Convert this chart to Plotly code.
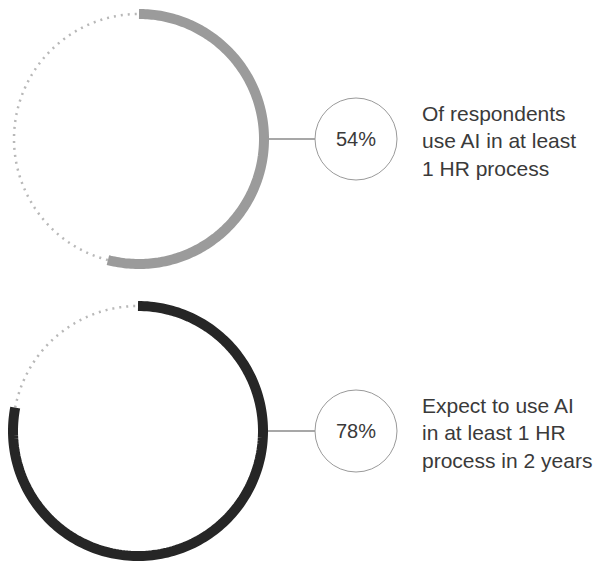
import numpy as np
import plotly.graph_objects as go

# ---- data ----
values = [54, 78]
value_labels = ["54%", "78%"]
descriptions = [
    "Of respondents<br>use AI in at least<br>1 HR process",
    "Expect to use AI<br>in at least 1 HR<br>process in 2 years",
]

# ---- style ----
arc_colors = ["#9b9b9b", "#262626"]
rest_color = "#b8b8b8"
text_color = "#3a3a3a"
W, H = 598, 567
# ring centers (px) and centerline radius (px)
centers = [(139, 139), (138, 431)]
R = 125
PAD = 1.05  # radial range headroom so the thick arc is not clipped
bubble_x = 356
bubble_r = 41
text_x = 420

fig = go.Figure()
shapes = []
annotations = []

for i, (v, lab, desc) in enumerate(zip(values, value_labels, descriptions)):
    cx, cy = centers[i]
    pname = "polar" if i == 0 else f"polar{i+1}"
    end = v / 100 * 360
    th_fill = np.linspace(0, end, 200)
    th_rest = np.linspace(end, 360, 200)
    fig.add_trace(go.Scatterpolar(
        r=np.ones_like(th_rest), theta=th_rest, mode="lines",
        line=dict(color=rest_color, width=2.5, dash="2px,5px"),
        subplot=pname, showlegend=False, hoverinfo="skip"))
    fig.add_trace(go.Scatterpolar(
        r=np.ones_like(th_fill), theta=th_fill, mode="lines",
        line=dict(color=arc_colors[i], width=10),
        subplot=pname, showlegend=False, hoverinfo="skip"))
    Rd = R * PAD
    fig.update_layout(**{pname: dict(
        domain=dict(x=[max(0, (cx - Rd) / W), min(1, (cx + Rd) / W)],
                    y=[max(0, 1 - (cy + Rd) / H), min(1, 1 - (cy - Rd) / H)]),
        bgcolor="rgba(0,0,0,0)",
        radialaxis=dict(visible=False, range=[0, PAD]),
        angularaxis=dict(visible=False, rotation=90, direction="clockwise"),
    )})
    # connector line
    shapes.append(dict(type="line", xref="paper", yref="paper",
                       x0=(cx + R + 5) / W, x1=(bubble_x - bubble_r) / W,
                       y0=1 - cy / H, y1=1 - cy / H,
                       line=dict(color="#8a8a8a", width=1.3)))
    # bubble
    shapes.append(dict(type="circle", xref="paper", yref="paper",
                       x0=(bubble_x - bubble_r) / W, x1=(bubble_x + bubble_r) / W,
                       y0=1 - (cy + bubble_r) / H, y1=1 - (cy - bubble_r) / H,
                       line=dict(color="#9a9a9a", width=1), fillcolor="white"))
    annotations.append(dict(text=lab, x=bubble_x / W, y=1 - cy / H,
                            xref="paper", yref="paper", showarrow=False,
                            xanchor="center", yanchor="middle",
                            font=dict(size=20, color=text_color,
                                      family="Liberation Sans, Arial")))
    annotations.append(dict(text=desc, x=text_x / W, y=1 - (cy + 2) / H,
                            xref="paper", yref="paper", showarrow=False,
                            xanchor="left", yanchor="middle", align="left",
                            font=dict(size=21, color=text_color,
                                      family="Liberation Sans, Arial")))

fig.update_layout(
    width=W, height=H, margin=dict(l=0, r=0, t=0, b=0),
    paper_bgcolor="white", plot_bgcolor="white",
    shapes=shapes, annotations=annotations, showlegend=False,
)
fig.write_html("out.html", config={"displayModeBar": False})
